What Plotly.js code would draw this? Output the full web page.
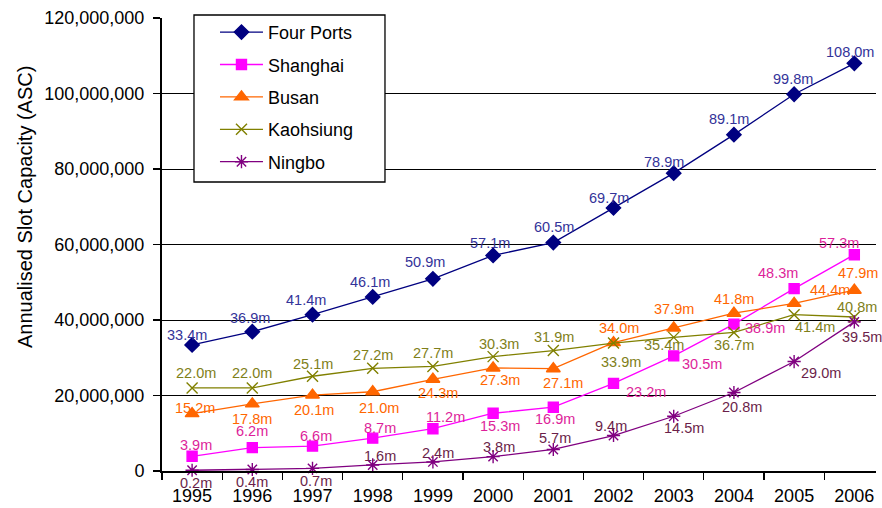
<!DOCTYPE html>
<html>
<head>
<meta charset="utf-8">
<script src="https://cdn.plot.ly/plotly-3.0.1.min.js"></script>
<style>html,body{margin:0;padding:0;background:#fff}#chart{width:882px;height:508px}</style>
</head>
<body>
<div id="chart"></div>
<script>
// ---- data (millions of ASC) ----
const years = ["1995","1996","1997","1998","1999","2000","2001","2002","2003","2004","2005","2006"];
const fourPorts = [33.4,36.9,41.4,46.1,50.9,57.1,60.5,69.7,78.9,89.1,99.8,108.0];
const shanghai  = [3.9,6.2,6.6,8.7,11.2,15.3,16.9,23.2,30.5,38.9,48.3,57.3];
const busan     = [15.2,17.8,20.1,21.0,24.3,27.3,27.1,34.0,37.9,41.8,44.4,47.9];
const kaohsiung = [22.0,22.0,25.1,27.2,27.7,30.3,31.9,33.9,35.4,36.7,41.4,40.8];
const ningbo    = [0.2,0.4,0.7,1.6,2.4,3.8,5.7,9.4,14.5,20.8,29.0,39.5];
const seriesNames = ["Four Ports","Shanghai","Busan","Kaohsiung","Ningbo"];

// ---- label offsets in pixels (dx, dy; dy positive = down) ----
const offFour = [[-5,-10],[-2,-14],[-7,-15],[-3,-15],[-8,-17],[-3,-12],[1,-16],[-5,-10],[-10,-11],[-5,-16],[-1,-15],[-4,-11]];
const offShan = [[4,-11],[0,-17],[3,-10],[7,-10],[13,-12],[7,13],[2,12],[32,9],[28,8],[31,4],[-16,-16],[-15,-12]];
const offBusa = [[3,-6],[0,15],[1,15],[6,16],[5,14],[7,12],[10,14],[5,-15],[0,-19],[0,-14],[36,-13],[4,-17]];
const offKaoh = [[4,-15],[0,-15],[0,-12],[0,-13],[0,-13],[6,-13],[1,-14],[7,19],[-10,8],[0,13],[21,12],[3,-10]];
const offNing = [[4,13],[0,13],[3,13],[7,-9],[5,-9],[6,-10],[2,-11],[-3,-10],[10,12],[8,15],[27,11],[8,15]];

const M = 1e6;
const font = "Arial, Liberation Sans, sans-serif";

const specs = [
  {name: seriesNames[0], vals: fourPorts, off: offFour, color: "#000080", label: "#333399", symbol: "diamond", size: 11},
  {name: seriesNames[1], vals: shanghai,  off: offShan, color: "#ff00ff", label: "#dd1f9a", symbol: "square", size: 10},
  {name: seriesNames[2], vals: busan,     off: offBusa, color: "#ff6600", label: "#ff6600", symbol: "triangle-up", size: 12},
  {name: seriesNames[3], vals: kaohsiung, off: offKaoh, color: "#808000", label: "#7f7f1a", symbol: "x-thin-open", size: 11},
  {name: seriesNames[4], vals: ningbo,    off: offNing, color: "#800080", label: "#6b1f4a", symbol: "asterisk-open", size: 11}
];

const traces = specs.map((s, k) => ({
  type: "scatter",
  mode: "lines+markers",
  name: s.name,
  legendgroup: "g" + k,
  x: years,
  y: s.vals.map(v => v * M),
  line: {color: s.color, width: 1.3},
  marker: {symbol: s.symbol, size: s.size, color: s.color, line: {color: s.color, width: 1.4}},
  cliponaxis: false,
  hoverinfo: "skip"
}));

const annotations = [];
specs.forEach(s => {
  s.vals.forEach((v, i) => {
    annotations.push({
      x: i, y: v * M, xref: "x", yref: "y",
      text: v.toFixed(1) + "m",
      showarrow: false,
      xanchor: "center", yanchor: "middle",
      xshift: s.off[i][0], yshift: -s.off[i][1],
      font: {family: font, size: 14.5, color: s.label}
    });
  });
});

// y-axis title
annotations.push({
  xref: "paper", yref: "paper", x: -0.1919, y: 0.5828,
  text: "Annualised Slot Capacity (ASC)", textangle: -90,
  showarrow: false, xanchor: "center", yanchor: "middle",
  font: {family: font, size: 20, color: "#000"}
});

const layout = {
  width: 882, height: 508,
  margin: {l: 162, r: 6, t: 18, b: 37},
  paper_bgcolor: "#fff", plot_bgcolor: "#fff",
  font: {family: font, size: 18, color: "#000"},
  showlegend: true,
  legend: {
    x: 0.0742, y: 1.009, xanchor: "left", yanchor: "top",
    bgcolor: "rgba(0,0,0,0)", borderwidth: 0,
    font: {family: font, size: 18, color: "#000"},
    traceorder: "grouped", tracegroupgap: 6, itemwidth: 43
  },
  xaxis: {
    type: "category", range: [-0.5, 11.36],
    tickson: "boundaries", ticks: "outside", ticklen: 7, tickwidth: 1.3, tickcolor: "#000",
    showline: true, linecolor: "#000", linewidth: 2,
    showgrid: false, zeroline: false,
    ticklabelstandoff: 7,
    tickfont: {family: font, size: 18, color: "#000"}
  },
  yaxis: {
    range: [0, 120 * M], dtick: 20 * M, tick0: 0, tickformat: ",.0f",
    ticks: "outside", ticklen: 7, tickwidth: 1.3, tickcolor: "#000",
    showline: true, linecolor: "#000", linewidth: 2,
    showgrid: true, gridcolor: "#000", gridwidth: 1, zeroline: false,
    ticklabelstandoff: 5,
    tickfont: {family: font, size: 18, color: "#000"}
  },
  shapes: [{
    type: "rect", xref: "paper", yref: "paper", layer: "above",
    x0: 0.0448, x1: 0.3123, y0: 0.638, y1: 1.0066,
    fillcolor: "#fff", line: {color: "#000", width: 1.3}
  }],
  annotations: annotations
};

Plotly.newPlot("chart", traces, layout, {displayModeBar: false, staticPlot: true});
</script>
</body>
</html>
